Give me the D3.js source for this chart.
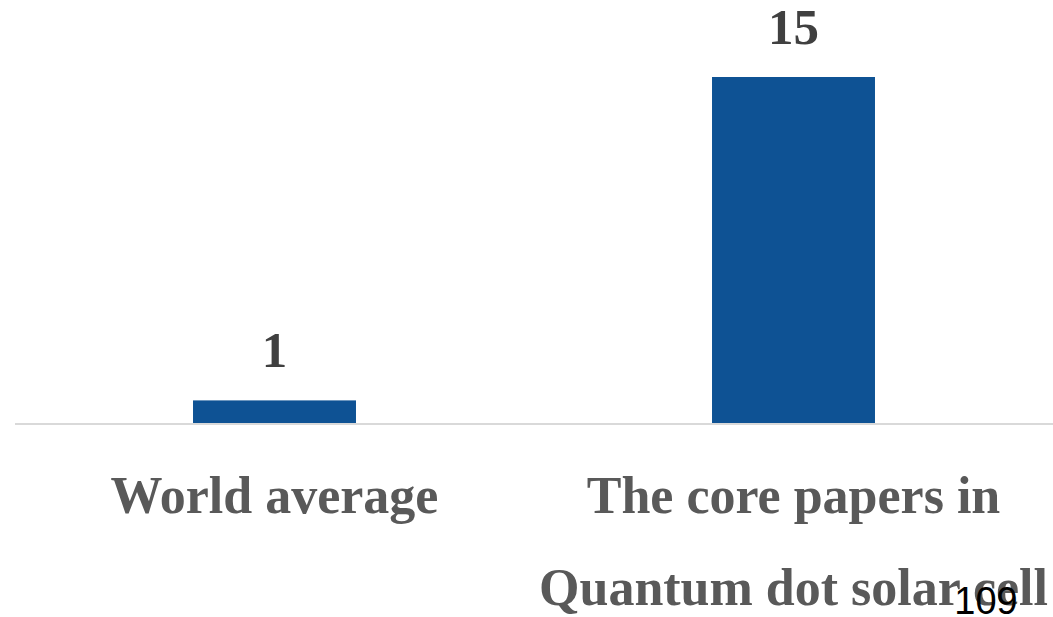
<!DOCTYPE html>
<html>
<head>
<meta charset="utf-8">
<script src="https://cdn.jsdelivr.net/npm/d3@7"></script>
<style>
  html, body { margin: 0; padding: 0; background: #fff; }
  svg { display: block; }
</style>
</head>
<body>
<svg id="chart" width="1053" height="617"></svg>
<script>
// Category labels (each entry is a list of text lines) and their values
const categories = ["World average", "The core papers in Quantum dot solar cell"];
const categoryLines = [["World average"], ["The core papers in", "Quantum dot solar cell"]];
const values = [1, 15];
const pageNumber = "109";

const W = 1053, H = 617;
const svg = d3.select("#chart");

const x = d3.scaleBand()
  .domain(categories)
  .range([15, 1053])
  .paddingInner(0.686)
  .paddingOuter(0.343);

const y = d3.scaleLinear()
  .domain([0, 15])
  .range([423.5, 77]);

// bars
svg.selectAll("rect.bar")
  .data(values)
  .join("rect")
  .attr("class", "bar")
  .attr("x", (d, i) => x(categories[i]))
  .attr("width", x.bandwidth())
  .attr("y", d => y(d))
  .attr("height", d => y(0) - y(d))
  .attr("fill", "#0E5294");

// baseline
svg.append("line")
  .attr("x1", 15).attr("x2", W)
  .attr("y1", y(0) + 0.5).attr("y2", y(0) + 0.5)
  .attr("stroke", "#D9D9D9")
  .attr("stroke-width", 2);

// value labels
svg.selectAll("text.value")
  .data(values)
  .join("text")
  .attr("class", "value")
  .attr("x", (d, i) => x(categories[i]) + x.bandwidth() / 2)
  .attr("y", d => y(d) - 33)
  .attr("text-anchor", "middle")
  .attr("font-family", "'Liberation Serif', 'DejaVu Serif', serif")
  .attr("font-weight", "bold")
  .attr("font-size", 51)
  .attr("fill", "#404040")
  .text(d => d);

// category labels
const cat = svg.selectAll("text.cat")
  .data(categoryLines)
  .join("text")
  .attr("class", "cat")
  .attr("x", (d, i) => x(categories[i]) + x.bandwidth() / 2)
  .attr("y", 513)
  .attr("text-anchor", "middle")
  .attr("font-family", "'Liberation Serif', 'DejaVu Serif', serif")
  .attr("font-weight", "bold")
  .attr("font-size", 52)
  .attr("fill", "#595959");

cat.each(function (lines, i) {
  d3.select(this).selectAll("tspan")
    .data(lines)
    .join("tspan")
    .attr("x", x(categories[i]) + x.bandwidth() / 2)
    .attr("dy", (d, j) => j === 0 ? 0 : 92)
    .text(d => d);
});

// page number
svg.append("text")
  .attr("x", 986)
  .attr("y", 614)
  .attr("text-anchor", "middle")
  .attr("font-family", "'Liberation Sans', Arial, sans-serif")
  .attr("font-size", 38)
  .attr("fill", "#000")
  .text(pageNumber);
</script>
</body>
</html>
